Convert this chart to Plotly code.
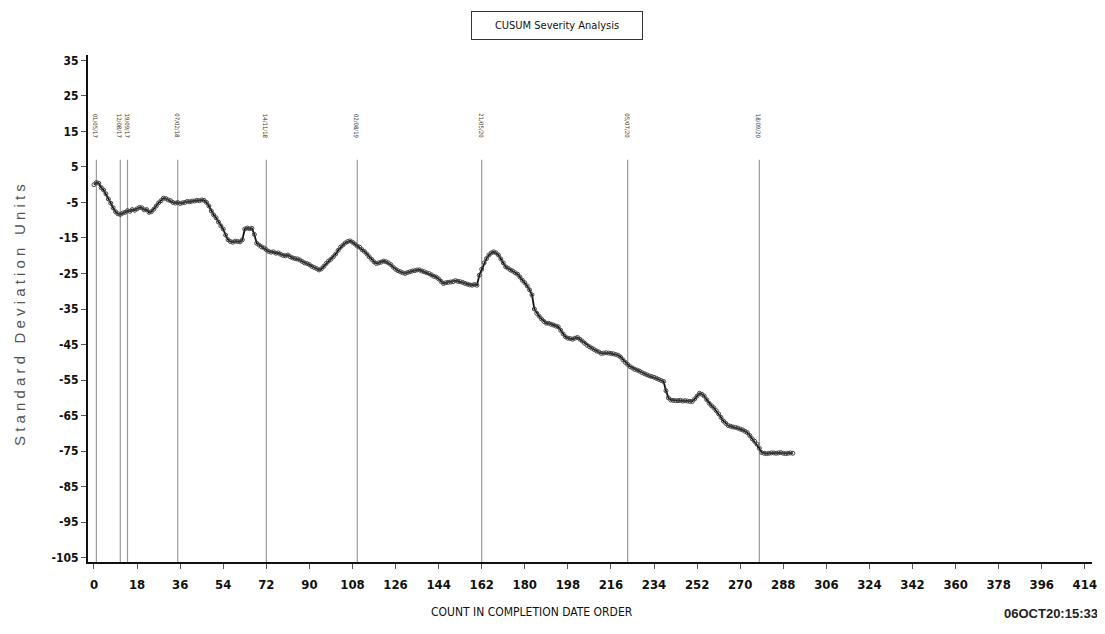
import plotly.graph_objects as go

# ---- data ----
cusum = [
    0.0, 0.6, 0.4, -0.8, -1.5, -2.6, -4.0, -5.2, -6.5, -7.6,
    -8.2, -8.4, -8.0, -7.8, -7.3, -7.5, -7.0, -7.2, -6.8, -6.4,
    -6.5, -7.1, -7.0, -7.8, -7.6, -6.9, -6.0, -5.1, -4.5, -3.8,
    -3.9, -4.3, -4.5, -5.0, -5.2, -5.0, -5.3, -5.1, -5.0, -4.7,
    -4.8, -4.6, -4.6, -4.4, -4.5, -4.3, -4.4, -5.0, -6.0, -7.4,
    -8.5, -9.3, -10.5, -11.6, -12.5, -14.2, -15.5, -16.0, -16.2, -15.9,
    -16.0, -16.1, -15.5, -12.5, -12.2, -12.4, -12.3, -14.0, -16.5, -17.0,
    -17.5, -17.8, -18.3, -18.8, -19.0, -18.9, -19.3, -19.2, -19.6, -19.9,
    -20.0, -19.8, -20.3, -20.6, -20.8, -20.9, -21.2, -21.6, -22.0, -22.2,
    -22.5, -23.0, -23.3, -23.6, -24.0, -23.7, -23.0, -22.2, -21.5, -21.0,
    -20.3, -19.5, -18.5, -17.6, -17.0, -16.4, -16.0, -15.8, -16.2, -16.7,
    -17.3, -17.6, -18.3, -18.8, -19.5, -20.3, -21.0, -21.7, -22.2, -22.0,
    -21.8, -21.5, -21.7, -22.0, -22.5, -23.2, -23.8, -24.2, -24.5, -24.8,
    -25.0, -24.7, -24.5, -24.3, -24.2, -24.0, -24.0, -24.3, -24.5, -24.8,
    -25.0, -25.4, -25.8, -26.0, -26.5, -27.2, -27.8, -27.6, -27.5, -27.4,
    -27.3, -27.0, -27.2, -27.3, -27.5, -27.8, -28.0, -28.2, -28.3, -28.1,
    -28.3, -25.5, -23.8, -22.0, -20.8, -19.8, -19.2, -18.9, -19.2, -19.8,
    -20.9, -22.0, -23.1, -23.5, -24.0, -24.3, -24.8, -25.2, -26.0, -26.9,
    -27.6, -28.5, -29.6, -31.0, -35.0, -36.2, -37.0, -37.8, -38.5, -39.0,
    -39.0, -39.3, -39.5, -39.8, -40.0, -41.0, -42.0, -42.8, -43.2, -43.3,
    -43.5, -43.2, -43.0, -43.5, -44.0, -44.6, -45.2, -45.6, -46.0, -46.4,
    -46.8, -47.1, -47.5, -47.4, -47.3, -47.4, -47.5, -47.6, -47.8, -48.0,
    -48.5, -49.3, -50.0, -50.6, -51.2, -51.6, -52.0, -52.2, -52.5, -52.9,
    -53.2, -53.5, -53.8, -54.0, -54.2, -54.5, -54.8, -55.1, -55.4, -58.0,
    -60.0, -60.6, -60.7, -60.8, -60.8, -60.7, -60.9, -60.8, -60.9, -61.0,
    -61.0, -60.3, -59.5, -58.7, -59.0, -59.5, -60.5, -61.5, -62.2, -62.8,
    -63.6, -64.5, -65.5, -66.5, -67.2, -67.8, -68.0, -68.2, -68.3, -68.5,
    -68.8, -69.0, -69.4, -69.8, -70.6, -71.5, -72.2, -73.0, -74.2, -75.4,
    -75.6, -75.7, -75.6, -75.5, -75.5, -75.6, -75.5, -75.4, -75.6, -75.7,
    -75.6, -75.5, -75.6,
]
counts = list(range(len(cusum)))

event_x = [1, 11, 14, 35, 72, 110, 162, 223, 278]
event_labels = ["01/05/17", "12/08/17", "19/09/17", "07/02/18", "14/11/18",
                "02/08/19", "21/05/20", "05/07/20", "18/09/20"]

x_ticks = list(range(0, 415, 18))
y_ticks = list(range(35, -106, -10))
y_ticktext = [str(v) for v in y_ticks]

title_text = "CUSUM Severity Analysis"
x_title = "COUNT IN COMPLETION DATE ORDER"
y_title = "S t a n d a r d   D e v i a t i o n   U n i t s"
stamp = "06OCT20:15:33"

FONT = "DejaVu Sans Condensed, Liberation Sans Narrow, Arial Narrow, Liberation Sans, sans-serif"

# the page adds an 8px body margin; figure coordinates = screen coordinates - 8
OFF = 8
W, H = 1105 - OFF, 634 - OFF
PL, PR, PT, PB = 88 - OFF, 1092 - OFF, 55 - OFF, 562 - OFF
PW, PH = PR - PL, PB - PT


def px(xs):
    return (xs - OFF - PL) / PW


def py(ys):
    return (PB - (ys - OFF)) / PH


fig = go.Figure()

fig.add_trace(go.Scatter(
    x=counts, y=cusum, mode="lines+markers",
    line=dict(color="#111111", width=1.8),
    marker=dict(symbol="circle-open", size=4, color="#444444", line=dict(width=1)),
    showlegend=False, hoverinfo="x+y",
))

Y_MIN, Y_MAX = -106.2, 36.5
for xv, lab in zip(event_x, event_labels):
    fig.add_shape(type="line", x0=xv, x1=xv, y0=7, y1=Y_MIN,
                  xref="x", yref="y", line=dict(color="#9a9a9a", width=1.2),
                  layer="below")
    fig.add_annotation(x=xv, y=16.5, xref="x", yref="y", text=lab,
                       textangle=90, showarrow=False, yanchor="middle",
                       font=dict(family=FONT, size=6, color="#333333"))

fig.add_annotation(xref="paper", yref="paper", x=px(557), y=py(26),
                   xanchor="center", yanchor="middle",
                   text=title_text, showarrow=False,
                   font=dict(family=FONT, size=11, color="#111111"),
                   bordercolor="#333333", borderwidth=1, borderpad=6,
                   bgcolor="white", width=158, height=15)

fig.add_annotation(xref="paper", yref="paper", x=px(532), y=py(612),
                   xanchor="center", yanchor="middle",
                   text=x_title, showarrow=False,
                   font=dict(family=FONT, size=12, color="#111111"))
fig.add_annotation(xref="paper", yref="paper", x=px(1100), y=py(613),
                   xanchor="right", yanchor="middle",
                   text="<b>" + stamp + "</b>", showarrow=False,
                   font=dict(family="Liberation Sans, Arial, sans-serif", size=13, color="#222222"))
fig.add_annotation(xref="paper", yref="paper", x=px(19), y=py(315),
                   xanchor="center", yanchor="middle",
                   text=y_title, textangle=-90, showarrow=False,
                   font=dict(family="Liberation Sans, Arial, sans-serif", size=15, color="#555555"))

fig.update_layout(
    width=W, height=H,
    margin=dict(l=PL, r=W - PR, t=PT, b=H - PB),
    paper_bgcolor="white", plot_bgcolor="white",
    font=dict(family=FONT, color="#111111"),
)
fig.update_xaxes(
    range=[-2.5, 417], tickmode="array", tickvals=x_ticks,
    ticks="outside", ticklen=5, tickcolor="#555555",
    showline=True, linecolor="#111111", linewidth=2,
    showgrid=False, zeroline=False, automargin=False,
    tickfont=dict(family=FONT, size=13, color="#111111", weight="bold"),
    ticklabelstandoff=4,
)
fig.update_yaxes(
    range=[Y_MIN, Y_MAX], tickmode="array", tickvals=y_ticks, ticktext=y_ticktext,
    ticks="outside", ticklen=5, tickcolor="#555555",
    showline=True, linecolor="#111111", linewidth=2,
    showgrid=False, zeroline=False, automargin=False,
    tickfont=dict(family=FONT, size=12, color="#111111", weight="bold"),
)

fig.write_html("out.html")
